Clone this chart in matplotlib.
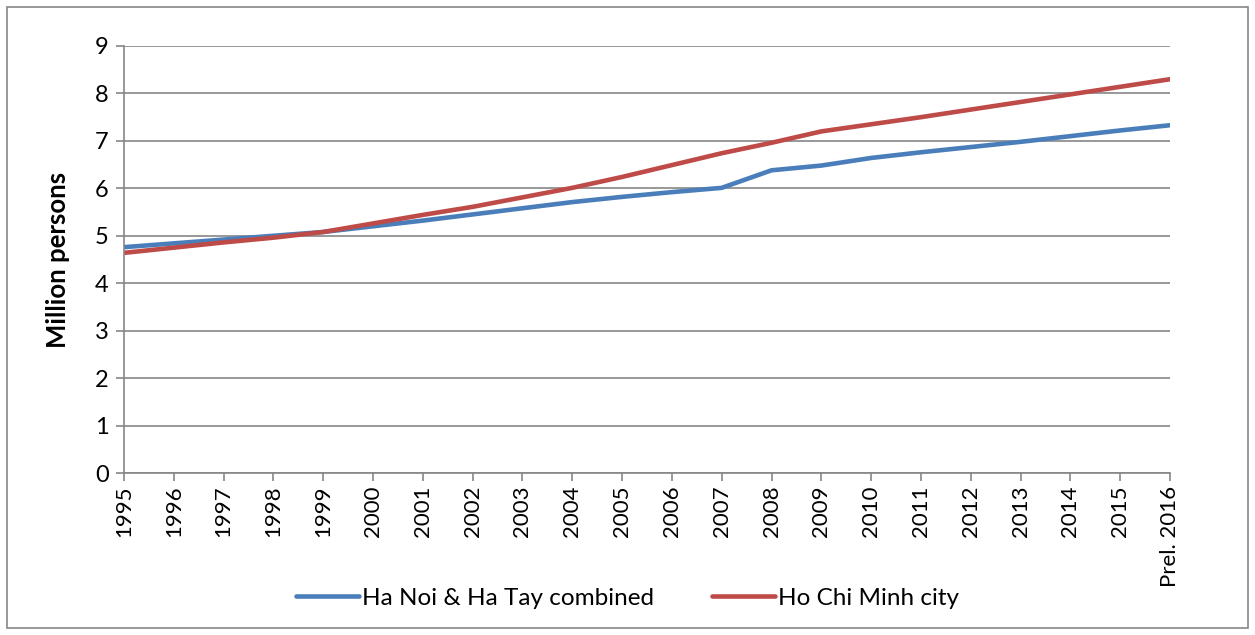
import matplotlib
matplotlib.use("Agg")
import matplotlib.pyplot as plt

years = ["1995", "1996", "1997", "1998", "1999", "2000", "2001", "2002", "2003",
         "2004", "2005", "2006", "2007", "2008", "2009", "2010", "2011", "2012",
         "2013", "2014", "2015", "Prel. 2016"]

ha_noi = [4.76, 4.84, 4.92, 5.00, 5.08, 5.20, 5.32, 5.45, 5.58, 5.71, 5.82,
          5.92, 6.01, 6.38, 6.48, 6.64, 6.76, 6.87, 6.98, 7.10, 7.22, 7.33]
hcm = [4.64, 4.75, 4.86, 4.96, 5.08, 5.26, 5.44, 5.61, 5.81, 6.01, 6.24,
       6.49, 6.74, 6.96, 7.20, 7.35, 7.50, 7.66, 7.82, 7.98, 8.14, 8.30]

plt.rcParams["font.family"] = ["Lato", "DejaVu Sans"]

fig = plt.figure(figsize=(12.55, 6.35), dpi=100)
ax = fig.add_axes([124 / 1255, 1 - 473 / 635, (1170 - 124) / 1255, (473 - 46) / 635])

# outer chart border
border = plt.Rectangle((7 / 1255, 7 / 635), 1 - 14 / 1255, 1 - 14 / 635,
                       transform=fig.transFigure, fill=False,
                       edgecolor="#868686", linewidth=1.2)
fig.patches.append(border)

x = list(range(len(years)))
ax.plot(x, ha_noi, color="#4A7EBB", linewidth=3.3, label="Ha Noi & Ha Tay combined",
        solid_capstyle="round")
ax.plot(x, hcm, color="#BE4B48", linewidth=3.3, label="Ho Chi Minh city",
        solid_capstyle="round")

ax.set_xlim(0, len(years) - 1)
ax.set_ylim(0, 9)
ax.set_yticks(range(0, 10))
ax.set_xticks(x)
ax.set_xticklabels(years, rotation=90, fontsize=16)
ax.tick_params(axis="y", labelsize=17, length=6, color="#868686", width=1.2, pad=5)
ax.tick_params(axis="x", length=6, color="#868686", width=1.2, pad=3)
ax.grid(axis="y", color="#868686", linewidth=1.2)
ax.set_axisbelow(True)

for side in ["top", "right"]:
    ax.spines[side].set_visible(False)
ax.spines["left"].set_color("#868686")
ax.spines["bottom"].set_color("#868686")
ax.spines["left"].set_linewidth(1.2)
ax.spines["bottom"].set_linewidth(1.2)

ax.set_ylabel("Million persons", fontsize=18.5, fontweight="bold", labelpad=18)

fig.legend(loc="center", bbox_to_anchor=(0.5, 1 - 598 / 635), ncol=2, frameon=False,
           fontsize=17.5, handlelength=2.6, handletextpad=0.1, columnspacing=2.4)

fig.savefig("out.png", dpi=100)
